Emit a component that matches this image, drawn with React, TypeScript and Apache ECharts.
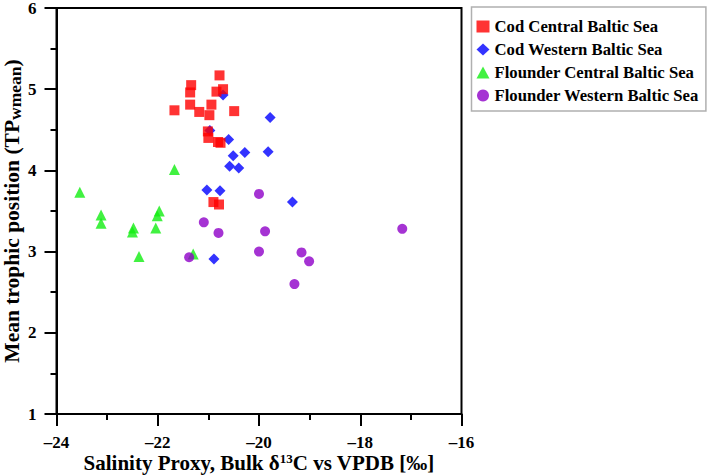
import { useEffect, useRef } from "react";
import * as echarts from "echarts";

// [bulk d13C, TP wmean]
const codCentral: [number, number][] = [
  [-20.78, 5.17], [-21.34, 5.05], [-21.36, 4.96], [-20.84, 4.97], [-20.71, 5.0],
  [-21.67, 4.74], [-21.36, 4.81], [-21.18, 4.72], [-20.94, 4.81], [-20.98, 4.68],
  [-20.49, 4.73], [-21.01, 4.48], [-21.0, 4.4], [-20.81, 4.35], [-20.76, 4.34],
  [-20.9, 3.61], [-20.79, 3.58],
];

const codWestern: [number, number][] = [
  [-20.71, 4.93], [-20.97, 4.49], [-19.78, 4.65], [-20.6, 4.38], [-20.28, 4.22],
  [-20.51, 4.18], [-19.82, 4.23], [-20.58, 4.05], [-20.4, 4.03], [-21.03, 3.76],
  [-20.77, 3.75], [-19.34, 3.61], [-20.89, 2.91],
];

const flounderCentral: [number, number][] = [
  [-21.67, 4.01], [-23.54, 3.73], [-23.12, 3.45], [-23.12, 3.35], [-22.48, 3.29],
  [-22.5, 3.24], [-21.97, 3.5], [-22.01, 3.44], [-22.04, 3.29], [-22.37, 2.94],
  [-21.3, 2.97],
];

const flounderWestern: [number, number][] = [
  [-21.38, 2.93], [-21.09, 3.36], [-20.8, 3.23], [-20.0, 3.71], [-19.88, 3.25],
  [-20.0, 3.0], [-19.16, 2.99], [-19.01, 2.88], [-19.3, 2.6], [-17.17, 3.28],
];

const seriesNames = [
  "Cod Central Baltic Sea",
  "Cod Western Baltic Sea",
  "Flounder Central Baltic Sea",
  "Flounder Western Baltic Sea",
];

const FONT = "Liberation Serif";

export default function App() {
  const chartRef = useRef<HTMLDivElement>(null);

  useEffect(() => {
    if (!chartRef.current) return;
    const chart = echarts.init(chartRef.current, null, { renderer: "svg" });

    const tickLabel = {
      fontFamily: FONT,
      fontWeight: "bold" as const,
      fontSize: 17,
      color: "#000",
    };

    const option: any = {
      animation: false,
      backgroundColor: "#fff",
      grid: {
        left: 56.5,
        right: 247.5,
        top: 8,
        bottom: 62,
        show: true,
        borderColor: "#000",
        borderWidth: 2,
        outerBoundsMode: "none",
      },
      legend: {
        orient: "vertical",
        left: 471.5,
        top: 7,
        padding: [11, 7, 7, 5],
        itemGap: 6,
        itemWidth: 13,
        itemHeight: 12,
        itemStyle: { borderWidth: 0 },
        borderColor: "#b0b0b0",
        borderWidth: 1.5,
        backgroundColor: "#fff",
        textStyle: {
          fontFamily: FONT,
          fontWeight: "bold",
          fontSize: 16.7,
          color: "#000",
        },
        data: seriesNames,
      },
      xAxis: {
        type: "value",
        min: -24,
        max: -16,
        interval: 2,
        name: "Salinity Proxy, Bulk δ{sup|13}C vs VPDB [‰]",
        nameLocation: "middle",
        nameGap: 38,
        nameMoveOverlap: false,
        nameTextStyle: {
          fontFamily: FONT,
          fontWeight: "bold",
          fontSize: 21,
          color: "#000",
          rich: {
            sup: {
              fontFamily: FONT,
              fontWeight: "bold",
              fontSize: 13,
              color: "#000",
              padding: [0, 0, 9, 0],
            },
          },
        },
        axisLine: { lineStyle: { color: "#000", width: 2 } },
        axisTick: { length: 12, lineStyle: { color: "#000", width: 2 } },
        minorTick: { show: true, splitNumber: 2, length: 6, lineStyle: { color: "#000", width: 2 } },
        splitLine: { show: false },
        axisLabel: {
          ...tickLabel,
          margin: 20,
          formatter: (v: number) => String(v).replace("-", "–"),
        },
      },
      yAxis: {
        type: "value",
        min: 1,
        max: 6,
        interval: 1,
        name: "Mean trophic position (TP{sub|wmean})",
        nameLocation: "middle",
        nameRotate: 90,
        nameGap: 33,
        nameMoveOverlap: false,
        nameTextStyle: {
          fontFamily: FONT,
          fontWeight: "bold",
          fontSize: 21.5,
          color: "#000",
          rich: {
            sub: {
              fontFamily: FONT,
              fontWeight: "bold",
              fontSize: 17.5,
              color: "#000",
              padding: [6, 0, 0, 0],
            },
          },
        },
        axisLine: { lineStyle: { color: "#000", width: 2 } },
        axisTick: { length: 12, lineStyle: { color: "#000", width: 2 } },
        minorTick: { show: true, splitNumber: 2, length: 6, lineStyle: { color: "#000", width: 2 } },
        splitLine: { show: false },
        axisLabel: { ...tickLabel, margin: 20 },
      },
      series: [
        {
          name: seriesNames[0],
          type: "scatter",
          symbol: "rect",
          symbolSize: 10,
          z: 3,
          itemStyle: { color: "#ff0000" },
          data: codCentral,
        },
        {
          name: seriesNames[1],
          type: "scatter",
          symbol: "diamond",
          symbolSize: 11,
          z: 2,
          itemStyle: { color: "#0000ff" },
          data: codWestern,
        },
        {
          name: seriesNames[2],
          type: "scatter",
          symbol: "triangle",
          symbolSize: 11,
          z: 4,
          itemStyle: { color: "#11ee11" },
          data: flounderCentral,
        },
        {
          name: seriesNames[3],
          type: "scatter",
          symbol: "circle",
          symbolSize: 10,
          z: 5,
          itemStyle: { color: "#8e00c8" },
          data: flounderWestern,
        },
      ],
    };

    chart.setOption(option);

    return () => {
      chart.dispose();
    };
  }, []);

  return (
    <div
      ref={chartRef}
      style={{ position: "fixed", left: 0, top: 0, width: "709px", height: "476px" }}
    />
  );
}
